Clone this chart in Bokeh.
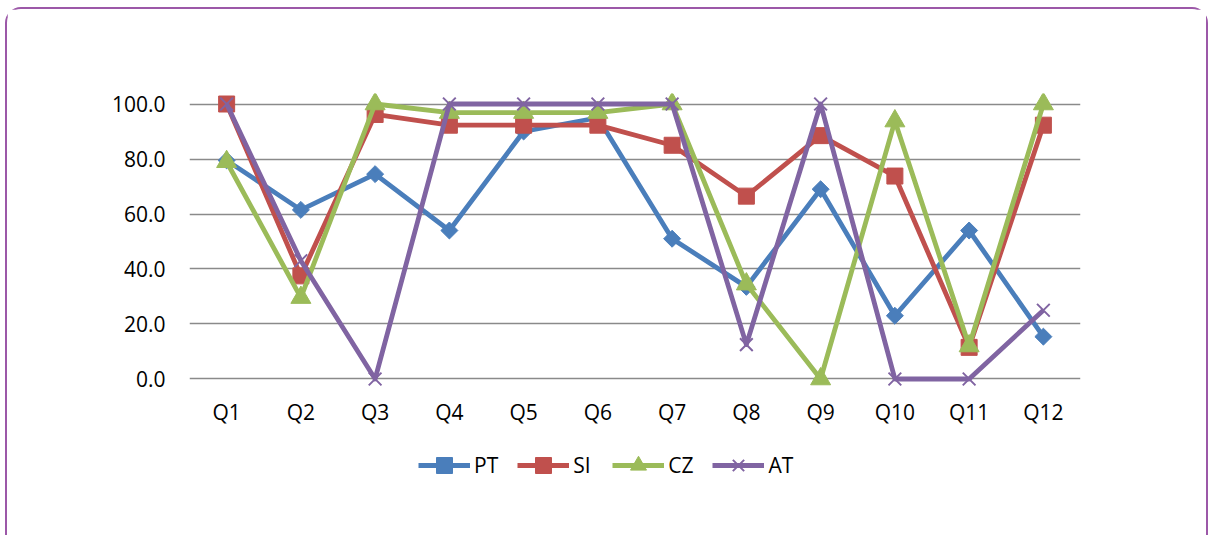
import numpy as np
from bokeh.plotting import figure
from bokeh.models import (ColumnDataSource, FixedTicker, NumeralTickFormatter, Range1d,
                          Legend, LegendItem)
from bokeh.embed import file_html
from bokeh.resources import INLINE

# Quarterly scores per country
quarters = ["Q1", "Q2", "Q3", "Q4", "Q5", "Q6", "Q7", "Q8", "Q9", "Q10", "Q11", "Q12"]
pt = [79.5, 61.5, 74.5, 54.0, 90.0, 95.0, 51.0, 33.5, 69.0, 23.0, 54.0, 15.4]
si = [100.0, 37.5, 96.2, 92.3, 92.3, 92.3, 85.0, 66.5, 88.5, 73.8, 11.5, 92.3]
cz = [79.0, 29.6, 100.0, 96.9, 96.9, 96.9, 100.0, 34.5, 0.0, 93.8, 12.0, 100.0]
at = [100.0, 43.0, 0.0, 100.0, 100.0, 100.0, 100.0, 12.5, 100.0, 0.0, 0.0, 25.0]
y_ticks = [0, 20, 40, 60, 80, 100]

series = [
    ("PT", pt, "#4a7ebb", "square", 12, np.pi / 4),
    ("SI", si, "#c0504d", "square", 16, 0.0),
    ("CZ", cz, "#9bbb59", "triangle", 20, 0.0),
    ("AT", at, "#8064a2", "x", 18, 0.0),
]

FONT = "Open Sans"

# the plotting frame reaches down to the legend row; ticks/grid stay at 0..100
p = figure(width=1203, height=548, x_range=quarters, y_range=Range1d(-38.73, 103.82),
           output_backend="svg", toolbar_location=None,
           min_border_left=182, min_border_right=130, min_border_top=84, min_border_bottom=72)
p.x_range.range_padding = 0
p.outline_line_color = None
p.background_fill_color = "white"
p.border_fill_color = "white"

# rounded purple frame around the whole chart
p.styles = {"border": "2.5px solid #9c58a8", "border-radius": "16px",
            "margin-left": "5px", "margin-top": "7px"}

# gridlines only at the value ticks
p.xgrid.grid_line_color = None
p.ygrid.grid_line_color = "#8a8a8a"
p.ygrid.grid_line_width = 1.7
p.yaxis.ticker = FixedTicker(ticks=y_ticks)
p.yaxis.formatter = NumeralTickFormatter(format="0.0")

for ax in (p.xaxis, p.yaxis):
    ax.axis_line_color = None
    ax.major_tick_line_color = None
    ax.minor_tick_line_color = None
    ax.major_label_text_font = FONT
    ax.major_label_text_font_size = "21px"
    ax.major_label_text_color = "black"
p.yaxis.major_label_standoff = 18
# pull the quarter labels up just under the zero line
p.xaxis.major_label_standoff = -94

items = []
for name, vals, color, marker, size, angle in series:
    src = ColumnDataSource(dict(q=quarters, v=vals))
    ln = p.line("q", "v", source=src, line_color=color, line_width=4.8, line_join="round")
    if marker == "x":
        mk = p.scatter("q", "v", source=src, marker=marker, size=size,
                       line_color=color, line_width=2)
    else:
        mk = p.scatter("q", "v", source=src, marker=marker, size=size, angle=angle,
                       fill_color=color, line_color=color, line_width=1)
    items.append(LegendItem(label=name, renderers=[ln, mk]))

legend = Legend(items=items, orientation="horizontal", location=(229, 0),
                glyph_width=52, glyph_height=40, label_standoff=4, spacing=19,
                padding=0, margin=0, border_line_color=None, background_fill_alpha=0,
                label_text_font=FONT, label_text_font_size="21px", label_text_color="black")
p.add_layout(legend, "center")

open("out.html", "w").write(file_html(p, INLINE))
